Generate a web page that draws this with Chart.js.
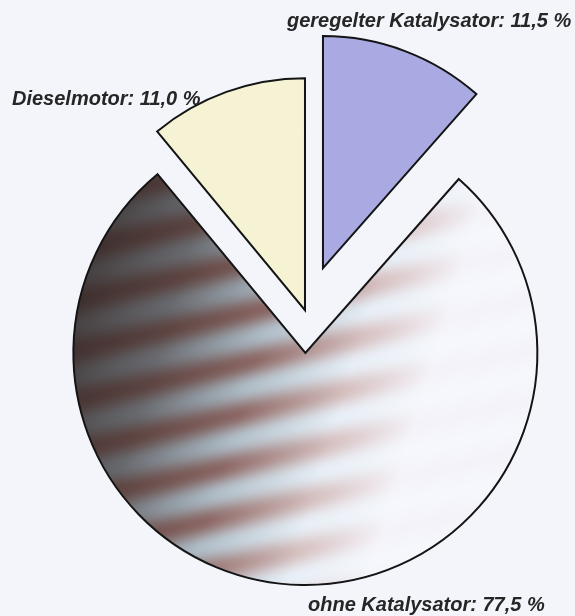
<!DOCTYPE html>
<html lang="de">
<head>
<meta charset="utf-8">
<title>Pkw nach Abgasreinigung</title>
<script src="https://cdn.jsdelivr.net/npm/chart.js@4/dist/chart.umd.min.js"></script>
<style>
  html, body { margin: 0; padding: 0; background: #f3f5fb; }
  #wrap { width: 575px; height: 616px; }
  canvas { display: block; }
</style>
</head>
<body>
<div id="wrap"><canvas id="pie" width="575" height="616"></canvas></div>
<script>
// Anteile der Pkw nach Art der Abgasreinigung (in %)
const categories = ['geregelter Katalysator', 'ohne Katalysator', 'Dieselmotor'];
const shares = [11.5, 77.5, 11.0];

// Flat fills; the large slice gets a shaded texture built below
const sliceColors = ['#aaaae3', '#9a9aa0', '#f5f3d3'];
// How far each slice is pulled out of the pie, along its bisector (px)
const explodeBy = [48, 40, 3];

// Label placement: x, alphabetic baseline, anchor
const labelLayout = [
  { x: 287, y: 27, align: 'left' },
  { x: 308, y: 611, align: 'left' },
  { x: 12, y: 105, align: 'left' }
];
const labelFont = 'italic bold 20px "Liberation Sans", Arial, sans-serif';

function formatShare(v) {
  return v.toFixed(1).replace('.', ',') + ' %';
}

let sliceTexture = null;

// Dark-to-white wash with diagonal brown/grey-blue bands
function buildTexture(chart, arc) {
  const w = chart.width, h = chart.height;
  const c = document.createElement('canvas');
  c.width = w; c.height = h;
  const g = c.getContext('2d');
  const img = g.createImageData(w, h);
  const R = arc.outerRadius;
  const brown = [[0, [244, 243, 249]], [0.2, [214, 192, 192]], [0.45, [140, 104, 101]], [0.7, [92, 68, 65]], [1, [54, 42, 41]]];
  const blue  = [[0, [245, 247, 252]], [0.2, [231, 238, 245]], [0.45, [174, 188, 198]], [0.7, [104, 106, 111]], [1, [60, 52, 52]]];
  const pick = (stops, t) => {
    for (let i = 1; i < stops.length; i++) {
      if (t <= stops[i][0]) {
        const [t0, c0] = stops[i - 1], [t1, c1] = stops[i];
        const k = (t - t0) / (t1 - t0);
        return [c0[0] + (c1[0] - c0[0]) * k, c0[1] + (c1[1] - c0[1]) * k, c0[2] + (c1[2] - c0[2]) * k];
      }
    }
    return stops[stops.length - 1][1];
  };
  for (let y = 0; y < h; y++) {
    for (let x = 0; x < w; x++) {
      const a = (x - arc.x) / R, b = (y - arc.y) / R;
      const D = Math.min(1, Math.max(0, 1 - (a + 0.3 * b + 1.155) / 1.72));
      const phase = (b + 0.22 * a + 0.016) / 0.2155;
      const wv = Math.pow(0.5 + 0.5 * Math.cos(2 * Math.PI * phase), 1.1);
      const c1 = pick(brown, D), c2 = pick(blue, D);
      const o = (y * w + x) * 4;
      img.data[o]     = c2[0] + (c1[0] - c2[0]) * wv;
      img.data[o + 1] = c2[1] + (c1[1] - c2[1]) * wv;
      img.data[o + 2] = c2[2] + (c1[2] - c2[2]) * wv;
      img.data[o + 3] = 255;
    }
  }
  g.putImageData(img, 0, 0);
  return chart.ctx.createPattern(c, 'no-repeat');
}

// Draws each slice pushed out along its bisector
const explodePlugin = {
  id: 'explodeSlices',
  beforeDatasetDraw(chart, args) {
    const ctx = chart.ctx;
    args.meta.data.forEach((arc, i) => {
      const mid = (arc.startAngle + arc.endAngle) / 2;
      const d = explodeBy[i] || 0;
      ctx.save();
      ctx.translate(Math.cos(mid) * d, Math.sin(mid) * d);
      arc.draw(ctx, chart.chartArea);
      ctx.restore();
    });
    return false;
  }
};

// Category labels with their shares
const labelPlugin = {
  id: 'shareLabels',
  afterDatasetsDraw(chart) {
    const ctx = chart.ctx;
    ctx.save();
    ctx.font = labelFont;
    ctx.fillStyle = '#262626';
    ctx.textBaseline = 'alphabetic';
    categories.forEach((cat, i) => {
      const pos = labelLayout[i];
      ctx.textAlign = pos.align;
      ctx.fillText(cat + ': ' + formatShare(shares[i]), pos.x, pos.y);
    });
    ctx.restore();
  }
};

const chart = new Chart(document.getElementById('pie'), {
  type: 'pie',
  data: {
    labels: categories,
    datasets: [{
      data: shares,
      backgroundColor: (c) => (c.dataIndex === 1 && sliceTexture) ? sliceTexture : sliceColors[c.dataIndex],
      borderColor: '#141414',
      borderWidth: 2,
      borderJoinStyle: 'miter',
      hoverOffset: 0
    }]
  },
  options: {
    responsive: false,
    animation: false,
    rotation: 0,
    layout: { padding: { left: 73, right: 36, top: 80, bottom: 70 } },
    plugins: {
      legend: { display: false },
      tooltip: { enabled: false }
    },
    events: []
  },
  plugins: [explodePlugin, labelPlugin]
});

sliceTexture = buildTexture(chart, chart.getDatasetMeta(0).data[1]);
chart.update('none');
</script>
</body>
</html>
